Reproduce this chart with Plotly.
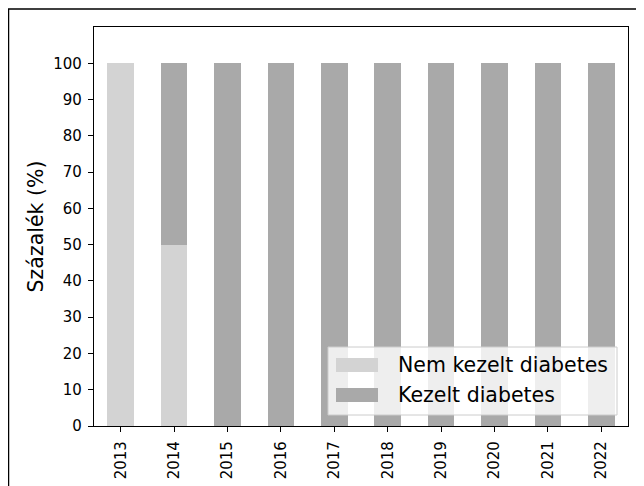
import plotly.graph_objects as go

# data
years = ["2013", "2014", "2015", "2016", "2017", "2018", "2019", "2020", "2021", "2022"]
nem_kezelt = [100, 50, 0, 0, 0, 0, 0, 0, 0, 0]
kezelt = [0, 50, 100, 100, 100, 100, 100, 100, 100, 100]
series_names = ["Nem kezelt diabetes", "Kezelt diabetes"]
series_colors = ["#d3d3d3", "#a9a9a9"]

# the page puts the figure 8px in from the window edge
OFF = 8
W, H = 644 - OFF, 486 - OFF
ML, MR, MT, MB = 94 - OFF, 16, 27 - OFF, 60
PW, PH = W - ML - MR, H - MT - MB


def px_x(x):
    # window pixel -> paper coordinate
    return (x - OFF - ML) / PW


def px_y(y):
    return (H - MB - (y - OFF)) / PH


fig = go.Figure()
for name, vals, col in zip(series_names, [nem_kezelt, kezelt], series_colors):
    fig.add_trace(go.Bar(x=years, y=vals, name=name, marker_color=col,
                         marker_line_width=0, width=0.5, showlegend=False))

fig.update_layout(
    width=W, height=H,
    barmode="stack",
    plot_bgcolor="white", paper_bgcolor="white",
    margin=dict(l=ML, r=MR, t=MT, b=MB),
    font=dict(family="DejaVu Sans", size=15, color="black"),
)
fig.update_xaxes(range=[-0.5, 9.5], showline=True, mirror=True, linecolor="black",
                 linewidth=1.3, ticks="outside", ticklen=5, tickcolor="black",
                 tickangle=-90, showgrid=False, zeroline=False, ticklabelstandoff=3,
                 automargin=False)
fig.update_yaxes(range=[0, 110], tickvals=list(range(0, 101, 10)), showline=True,
                 mirror=True, linecolor="black", linewidth=1.3, ticks="outside",
                 ticklen=5, tickcolor="black", showgrid=False, zeroline=False,
                 ticklabelstandoff=3, automargin=False,
                 title=dict(text="Százalék (%)", font=dict(size=20.5), standoff=4))

# outer figure frame (partly cropped in the reference)
fig.add_shape(type="path", xref="paper", yref="paper",
              path=f"M {px_x(8.6)},{px_y(520)} L {px_x(8.6)},{px_y(9)} L {px_x(680)},{px_y(9)}",
              line=dict(color="black", width=1.3))

# legend drawn like matplotlib's
x0, x1, y0, y1 = px_x(328), px_x(617), px_y(415), px_y(347)
fig.add_shape(type="rect", xref="paper", yref="paper", x0=x0, x1=x1, y0=y0, y1=y1,
              fillcolor="rgba(255,255,255,0.8)", line=dict(color="#cccccc", width=1))
for i, (name, col) in enumerate(zip(series_names, series_colors)):
    cy = 365 + i * 30
    fig.add_shape(type="rect", xref="paper", yref="paper",
                  x0=px_x(336), x1=px_x(378), y0=px_y(cy + 7), y1=px_y(cy - 7),
                  fillcolor=col, line=dict(width=0))
    fig.add_annotation(x=px_x(396), y=px_y(cy), xref="paper", yref="paper",
                       text=name, showarrow=False, xanchor="left", yanchor="middle",
                       font=dict(size=20.5))

fig.write_html("out.html")
